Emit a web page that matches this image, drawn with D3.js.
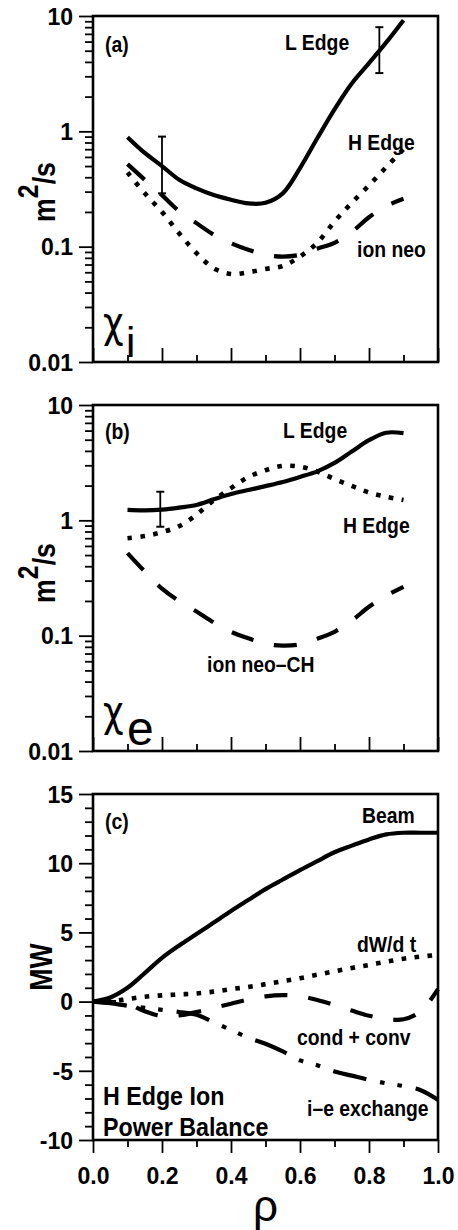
<!DOCTYPE html>
<html><head><meta charset="utf-8">
<script src="https://cdn.jsdelivr.net/npm/d3@7"></script>
<style>body{margin:0;background:#fff}svg{display:block}</style>
</head><body>
<svg id="c" width="458" height="1230"></svg>
<script>
// ---------- data ----------
const rhoChi = [0.1,0.15,0.2,0.25,0.3,0.35,0.4,0.45,0.5,0.55,0.6,0.65,0.7,0.75,0.8,0.85,0.9];
// panel (a) chi_i  (m^2/s)
const chiI_Ledge = [0.89,0.65,0.50,0.38,0.32,0.28,0.255,0.237,0.24,0.29,0.48,0.87,1.55,2.6,3.9,5.9,9.2];
const chiI_Hedge = [0.44,0.29,0.20,0.13,0.088,0.065,0.058,0.06,0.064,0.068,0.082,0.108,0.165,0.24,0.34,0.49,0.70];
const chiI_neo   = [0.52,0.38,0.28,0.203,0.16,0.127,0.107,0.094,0.085,0.082,0.085,0.096,0.108,0.134,0.18,0.225,0.26];
// panel (b) chi_e  (m^2/s)
const chiE_Ledge = [1.23,1.22,1.24,1.29,1.36,1.52,1.69,1.83,1.98,2.15,2.38,2.66,3.15,3.95,4.95,5.75,5.7];
const chiE_Hedge = [0.70,0.73,0.79,0.89,1.12,1.49,1.9,2.37,2.72,2.96,2.92,2.65,2.28,1.99,1.74,1.6,1.5];
const chiE_neoCH = [0.52,0.36,0.256,0.199,0.162,0.13,0.108,0.095,0.085,0.082,0.084,0.094,0.108,0.135,0.178,0.222,0.265];
// error bars
const errRhoA = [0.2, 0.83], errLoA = [0.29, 3.2], errHiA = [0.9, 8.0];
const errRhoB = [0.195],     errLoB = [0.88],     errHiB = [1.77];
// panel (c) power balance (MW)
const rhoP = [0,0.05,0.1,0.15,0.2,0.25,0.3,0.35,0.4,0.45,0.5,0.55,0.6,0.65,0.7,0.75,0.8,0.85,0.9,0.95,1.0];
const beam     = [0,0.3,1.0,2.06,3.16,4.06,4.88,5.71,6.54,7.34,8.13,8.82,9.5,10.15,10.79,11.27,11.72,12.08,12.2,12.2,12.2];
const dWdt     = [0,0.02,0.18,0.35,0.45,0.52,0.59,0.72,0.9,1.06,1.26,1.48,1.69,1.94,2.19,2.43,2.65,2.88,3.1,3.25,3.38];
const condConv = [0,-0.02,-0.15,-0.7,-1.05,-1.0,-0.75,-0.45,-0.15,0.15,0.38,0.47,0.38,0.12,-0.25,-0.65,-1.02,-1.25,-1.28,-0.7,0.9];
const ieExch   = [0,-0.12,-0.3,-0.45,-0.6,-0.75,-0.95,-1.5,-2.05,-2.6,-3.05,-3.6,-4.25,-4.6,-5.05,-5.35,-5.65,-5.9,-6.1,-6.4,-7.1];
// ticks
const logMajor = [0.01,0.1,1,10];
const logMinor = [0.02,0.03,0.04,0.05,0.06,0.07,0.08,0.09,0.2,0.3,0.4,0.5,0.6,0.7,0.8,0.9,2,3,4,5,6,7,8,9];
const pMajor = [-10,-5,0,5,10,15];
const pMinor = d3.range(-10,16,1).filter(v=>v%5!==0);
const xMajor = [0,0.2,0.4,0.6,0.8,1.0];
const xMinor = [0.1,0.3,0.5,0.7,0.9];

// ---------- layout ----------
const FONT = '"Liberation Sans", Arial, Helvetica, sans-serif';
const GREEK = '"DejaVu Sans", "Liberation Sans", sans-serif';
const L = 93, R = 438;
const P = [{top:16,bottom:362},{top:405,bottom:751},{top:794,bottom:1140}];
const svg = d3.select('#c');
const x = d3.scaleLinear().domain([0,1]).range([L,R]);
const yA = d3.scaleLog().domain([0.01,10]).range([P[0].bottom,P[0].top]);
const yB = d3.scaleLog().domain([0.01,10]).range([P[1].bottom,P[1].top]);
const yC = d3.scaleLinear().domain([-10,15]).range([P[2].bottom,P[2].top]);

function styleAxis(g){
  g.select('.domain').remove();
  g.selectAll('.tick line').attr('stroke','#000').attr('stroke-width',1.8);
  g.selectAll('text').attr('font-family',FONT).attr('font-weight','bold').attr('font-size',23).attr('fill','#000');
}
function yAxes(y, major, minor, fmt){
  svg.append('g').attr('transform',`translate(${L},0)`)
    .call(d3.axisLeft(y).tickValues(major).tickSize(14).tickPadding(6).tickFormat(fmt)).call(styleAxis)
    .selectAll('text').attr('dy','0.36em');
  svg.append('g').attr('transform',`translate(${L},0)`)
    .call(d3.axisLeft(y).tickValues(minor).tickSize(8).tickFormat('')).call(styleAxis);
}
function frame(p){
  svg.append('rect').attr('x',L).attr('y',p.top).attr('width',R-L).attr('height',p.bottom-p.top)
    .attr('fill','none').attr('stroke','#000').attr('stroke-width',2.6);
}
const logFmt = d => String(d);

// panels a,b: inward x ticks
[P[0],P[1]].forEach(p=>{
  svg.append('g').attr('transform',`translate(0,${p.bottom})`)
    .call(d3.axisBottom(x).tickValues(xMajor).tickSize(-14).tickFormat('')).call(styleAxis);
  svg.append('g').attr('transform',`translate(0,${p.bottom})`)
    .call(d3.axisBottom(x).tickValues(xMinor).tickSize(-7).tickFormat('')).call(styleAxis);
});
yAxes(yA, logMajor, logMinor, logFmt);
yAxes(yB, logMajor, logMinor, logFmt);
yAxes(yC, pMajor, pMinor, d=>String(d));
// panel c x axis (outward)
svg.append('g').attr('transform',`translate(0,${P[2].bottom})`)
  .call(d3.axisBottom(x).tickValues(xMajor).tickSize(13).tickPadding(15).tickFormat(d3.format('.1f'))).call(styleAxis);
svg.append('g').attr('transform',`translate(0,${P[2].bottom})`)
  .call(d3.axisBottom(x).tickValues(xMinor).tickSize(7).tickFormat('')).call(styleAxis);
P.forEach(frame);

// ---------- curves ----------
const STY = {
  solid:  {w:4.2, dash:null},
  dashed: {w:4.2, dash:'23,21'},
  dotted: {w:4.6, dash:'4.6,8.4'},
  dashdot:{w:4.2, dash:'34,14,4.6,13,4.6,14'}
};
function curve(xs, ys, y, sty){
  const line = d3.line().x(d=>x(d[0])).y(d=>y(d[1])).curve(d3.curveCatmullRom.alpha(0.5));
  const s = STY[sty];
  const p = svg.append('path').datum(d3.zip(xs,ys)).attr('d',line)
    .attr('fill','none').attr('stroke','#000').attr('stroke-width',s.w);
  if (s.dash) p.attr('stroke-dasharray',s.dash);
}
function errbars(xs, lo, hi, y){
  xs.forEach((r,i)=>{
    const g = svg.append('g').attr('stroke','#000');
    g.append('line').attr('x1',x(r)).attr('x2',x(r)).attr('y1',y(lo[i])).attr('y2',y(hi[i])).attr('stroke-width',1.8);
    [lo[i],hi[i]].forEach(v=>g.append('line').attr('x1',x(r)-4).attr('x2',x(r)+4).attr('y1',y(v)).attr('y2',y(v)).attr('stroke-width',2));
  });
}
curve(rhoChi, chiI_Ledge, yA, 'solid');
curve(rhoChi, chiI_Hedge, yA, 'dotted');
curve(rhoChi, chiI_neo, yA, 'dashed');
errbars(errRhoA, errLoA, errHiA, yA);
curve(rhoChi, chiE_Ledge, yB, 'solid');
curve(rhoChi, chiE_Hedge, yB, 'dotted');
curve(rhoChi, chiE_neoCH, yB, 'dashed');
errbars(errRhoB, errLoB, errHiB, yB);
curve(rhoP, beam, yC, 'solid');
curve(rhoP, dWdt, yC, 'dotted');
curve(rhoP, condConv, yC, 'dashed');
curve(rhoP, ieExch, yC, 'dashdot');

// ---------- text ----------
function label(x0, y0, str, o={}){
  const t = svg.append('text')
    .attr('transform',`translate(${x0},${y0}) scale(${o.sx||0.88},1)`)
    .attr('font-family',o.font||FONT).attr('font-weight',o.weight||'bold')
    .attr('font-size',o.size||22).attr('text-anchor',o.anchor||'start').attr('fill','#000');
  t.text(str);
  return t;
}
// panel a
label(105, P[0].top+36, '(a)');
label(285, P[0].top+34, 'L Edge');
label(348, P[0].top+134, 'H Edge');
label(357, P[0].top+241, 'ion neo');
label(103, P[0].top+321, 'χ', {weight:'normal', size:42, sx:0.85, font:GREEK});
label(126, P[0].top+341, 'i', {weight:'normal', size:42, sx:1});
// panel b
label(105, P[1].top+34, '(b)');
label(283, P[1].top+33, 'L Edge');
label(343, P[1].top+128, 'H Edge');
label(207, P[1].top+267, 'ion neo–CH');
label(103, P[1].top+321, 'χ', {weight:'normal', size:42, sx:0.85, font:GREEK});
label(127, P[1].top+340, 'e', {weight:'normal', size:48, sx:1});
// panel c
label(105, P[2].top+35, '(c)');
label(362, P[2].top+29, 'Beam');
label(357, P[2].top+158, 'dW/d t');
label(297, P[2].top+251, 'cond + conv');
label(307, P[2].top+322, 'i–e exchange');
label(103, P[2].top+311, 'H Edge Ion', {size:25, sx:0.93});
label(103, P[2].top+342, 'Power Balance', {size:25, sx:0.93});

// y titles
function ytitle(cx, cy, parts){
  const t = svg.append('text').attr('transform',`translate(${cx},${cy}) rotate(-90) scale(0.86,1)`)
    .attr('font-family',FONT).attr('font-weight','bold').attr('font-size',31).attr('text-anchor','middle').attr('fill','#000');
  parts.forEach(p=>{ const s=t.append('tspan').text(p.t); if(p.dy) s.attr('dy',p.dy); if(p.fs) s.attr('font-size',p.fs); });
}
ytitle(55, (P[0].top+P[0].bottom)/2+3, [{t:'m'},{t:'2',dy:-17,fs:29},{t:'/s',dy:17}]);
ytitle(55, (P[1].top+P[1].bottom)/2-5, [{t:'m'},{t:'2',dy:-17,fs:29},{t:'/s',dy:17}]);
ytitle(52, (P[2].top+P[2].bottom)/2, [{t:'MW'}]);
// x title
svg.append('text').attr('x',(L+R)/2).attr('y',1221).attr('text-anchor','middle')
  .attr('font-family',FONT).attr('font-size',44).attr('fill','#000').text('ρ');
</script>
</body></html>
